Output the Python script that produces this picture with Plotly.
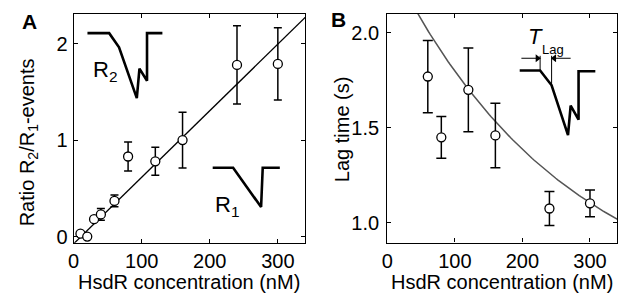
import plotly.graph_objects as go
import numpy as np

# Panel A data
conc_a = [10, 20, 30, 40, 60, 80, 120, 160, 240, 300]
ratio_a = [0.03, 0.0, 0.18, 0.23, 0.37, 0.83, 0.78, 1.0, 1.78, 1.79]
ratio_err = [0.0, 0.0, 0.0, 0.06, 0.06, 0.15, 0.145, 0.29, 0.405, 0.375]
fit_a_slope = 0.0069
fit_a_intercept = -0.075

# Panel B data
conc_b = [60, 80, 120, 160, 240, 300]
lag_b = [1.77, 1.45, 1.70, 1.46, 1.076, 1.103]
lag_err = [0.19, 0.11, 0.22, 0.17, 0.09, 0.07]
fit_b_offset = 0.5
fit_b_amp = 1.9
fit_b_tau = 262.5

# Inset sketches (schematic traces)
r2_x = [20.3, 52.2, 66.7, 92.8, 96.7, 107.8, 107.8, 130.4]
r2_y = [2.109, 2.109, 1.963, 1.435, 1.741, 1.616, 2.109, 2.109]
r1_x = [204.3, 234.3, 275.4, 277.8, 302.9]
r1_y = [0.714, 0.714, 0.306, 0.714, 0.714]
lag_x = [196.0, 226.2, 243.2, 267.5, 271.4, 283.1, 283.1, 307.9]
lag_y = [1.8015, 1.8015, 1.724, 1.462, 1.617, 1.543, 1.798, 1.798]

FONT = "Liberation Sans, Arial, sans-serif"
W, H = 618, 297

fig = go.Figure()

xa = np.linspace(0, 345, 50)
fig.add_trace(go.Scatter(x=xa, y=fit_a_intercept + fit_a_slope * xa, mode="lines",
                         line=dict(color="black", width=1.3), xaxis="x", yaxis="y"))
fig.add_trace(go.Scatter(x=conc_a, y=ratio_a, mode="markers",
                         error_y=dict(type="data", array=ratio_err, color="black", thickness=1.5, width=4),
                         marker=dict(symbol="circle", size=9, color="white", line=dict(color="black", width=1.3)),
                         xaxis="x", yaxis="y"))
fig.add_trace(go.Scatter(x=r2_x, y=r2_y, mode="lines", line=dict(color="black", width=2.6), xaxis="x", yaxis="y"))
fig.add_trace(go.Scatter(x=r1_x, y=r1_y, mode="lines", line=dict(color="black", width=2.6), xaxis="x", yaxis="y"))

xb = np.linspace(0, 345, 120)
fig.add_trace(go.Scatter(x=xb, y=fit_b_offset + fit_b_amp * np.exp(-xb / fit_b_tau), mode="lines",
                         line=dict(color="#555555", width=1.5), xaxis="x2", yaxis="y2"))
fig.add_trace(go.Scatter(x=conc_b, y=lag_b, mode="markers",
                         error_y=dict(type="data", array=lag_err, color="black", thickness=1.5, width=5),
                         marker=dict(symbol="circle", size=9, color="white", line=dict(color="black", width=1.3)),
                         xaxis="x2", yaxis="y2"))
fig.add_trace(go.Scatter(x=lag_x, y=lag_y, mode="lines", line=dict(color="black", width=2.6), xaxis="x2", yaxis="y2"))
# marker lines for T_lag
fig.add_trace(go.Scatter(x=[226.2, 226.2], y=[1.879, 1.8015], mode="lines", line=dict(color="black", width=1), xaxis="x2", yaxis="y2"))
fig.add_trace(go.Scatter(x=[243.2, 243.2], y=[1.879, 1.724], mode="lines", line=dict(color="black", width=1), xaxis="x2", yaxis="y2"))
# arrows
fig.add_trace(go.Scatter(x=[198.5, 222.0], y=[1.866, 1.866], mode="lines", line=dict(color="black", width=1), xaxis="x2", yaxis="y2"))
fig.add_trace(go.Scatter(x=[271.4, 247.4], y=[1.866, 1.866], mode="lines", line=dict(color="black", width=1), xaxis="x2", yaxis="y2"))
fig.add_trace(go.Scatter(x=[222.2], y=[1.866], mode="markers", marker=dict(symbol="triangle-right", size=7, color="black"),
                         xaxis="x2", yaxis="y2"))
fig.add_trace(go.Scatter(x=[247.2], y=[1.866], mode="markers", marker=dict(symbol="triangle-left", size=7, color="black"),
                         xaxis="x2", yaxis="y2"))

axis_common = dict(showgrid=False, zeroline=False, showline=True, linecolor="black", linewidth=1.2,
                   mirror="ticks", ticks="inside", ticklen=4, tickwidth=1, tickcolor="black",
                   tickfont=dict(family=FONT, size=20, color="black"))

def px_x(p):
    return p / W

def px_y(p):
    return 1 - p / H

fig.update_layout(
    width=W, height=H, margin=dict(l=0, r=0, t=0, b=0),
    paper_bgcolor="white", plot_bgcolor="white", showlegend=False,
    xaxis=dict(domain=[px_x(68.3), px_x(302)], range=[0, 340], tickvals=[0, 100, 200, 300],
               anchor="y", ticklabelstandoff=0, **axis_common),
    yaxis=dict(domain=[px_y(247), px_y(14)], range=[-0.065, 2.31], tickvals=[0, 1, 2],
               anchor="x", ticklabelstandoff=1, **axis_common),
    xaxis2=dict(domain=[px_x(385), px_x(617)], range=[0, 340], tickvals=[0, 100, 200, 300],
                anchor="y2", ticklabelstandoff=0, **axis_common),
    yaxis2=dict(domain=[px_y(246.7), px_y(14)], range=[0.897, 2.1], tickvals=[1.0, 1.5, 2.0],
                tickformat=".1f", anchor="x2", ticklabelstandoff=3, **axis_common),
)

ann = []
def txt(x, y, text, size=20, xref="paper", yref="paper", angle=0, bold=False, italic=False, xanchor="center", yanchor="middle"):
    t = text
    if bold:
        t = "<b>" + t + "</b>"
    if italic:
        t = "<i>" + t + "</i>"
    ann.append(dict(x=x, y=y, xref=xref, yref=yref, text=t, showarrow=False, textangle=angle,
                    font=dict(family=FONT, size=size, color="black"), xanchor=xanchor, yanchor=yanchor))

txt(px_x(185), px_y(287), "HsdR concentration (nM)")
txt(px_x(501), px_y(287), "HsdR concentration (nM)")
txt(px_x(23), px_y(145), "Ratio R<sub>2</sub>/R<sub>1</sub>-events", angle=-90)
txt(px_x(340), px_y(131.7), "Lag time (s)", angle=-90)
txt(px_x(24), px_y(22), "A", size=21, bold=True)
txt(px_x(336), px_y(20), "B", size=21, bold=True)
txt(46, 1.72, "R<sub>2</sub>", size=22, xref="x", yref="y")
txt(225, 0.32, "R<sub>1</sub>", size=22, xref="x", yref="y")
txt(218.9, 1.983, "T", size=22, xref="x2", yref="y2", italic=True)
txt(245.6, 1.914, "Lag", size=13, xref="x2", yref="y2")

fig.update_layout(annotations=ann)
fig.write_html("out.html", config={"displayModeBar": False},
               post_script="document.body.style.margin='0';document.body.style.overflow='hidden';")
